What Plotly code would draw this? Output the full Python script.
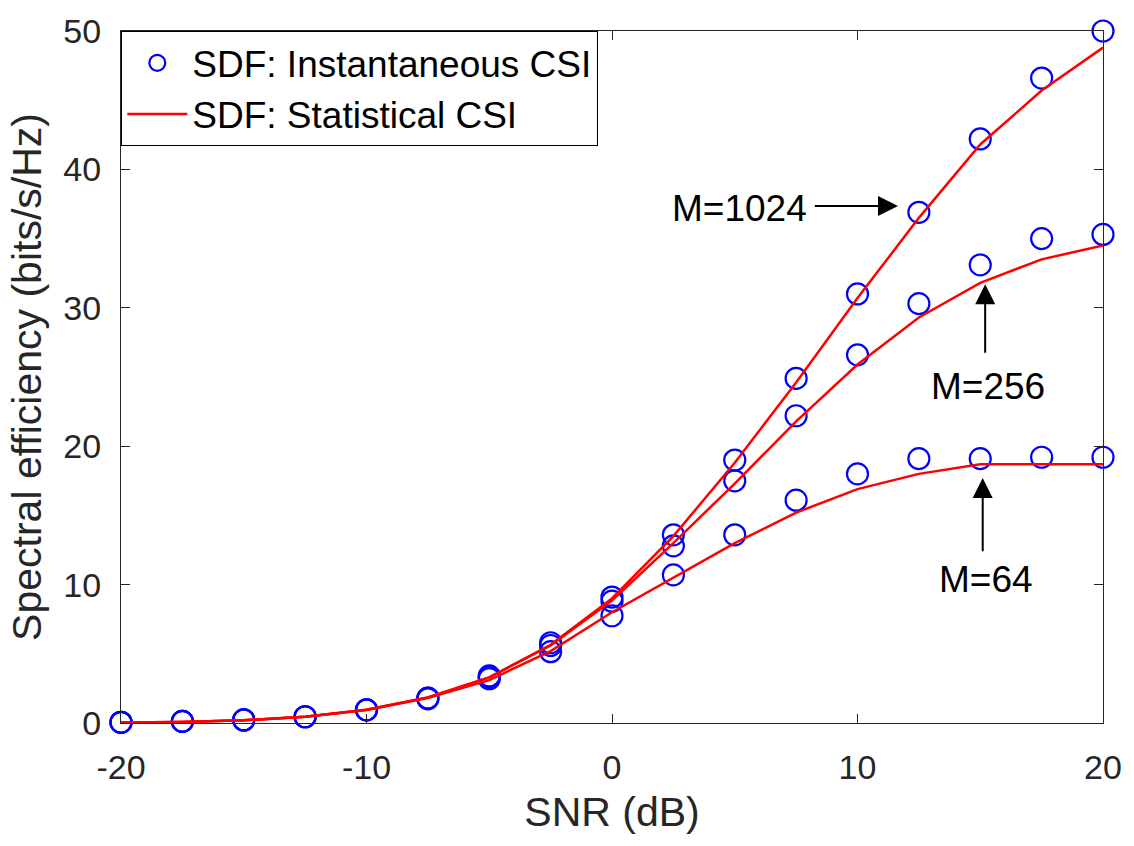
import plotly.graph_objects as go

snr = [-20, -17.5, -15, -12.5, -10, -7.5, -5, -2.5, 0, 2.5, 5, 7.5, 10, 12.5, 15, 17.5, 20]

inst_1024 = [0.05, 0.12, 0.22, 0.45, 0.95, 1.8, 3.4, 5.8, 9.1, 13.6, 19.0, 24.9, 31.0, 36.9, 42.2, 46.6, 50.0]
inst_256 = [0.05, 0.12, 0.22, 0.45, 0.95, 1.8, 3.35, 5.6, 8.8, 12.8, 17.5, 22.2, 26.6, 30.3, 33.1, 35.0, 35.3]
inst_64 = [0.05, 0.12, 0.22, 0.45, 0.95, 1.75, 3.2, 5.15, 7.75, 10.7, 13.6, 16.1, 18.0, 19.1, 19.1, 19.2, 19.2]

stat_1024 = [0.03, 0.08, 0.2, 0.45, 0.95, 1.85, 3.3, 5.65, 9.0, 13.5, 18.8, 24.6, 30.7, 36.5, 41.8, 45.7, 48.8]
stat_256 = [0.03, 0.08, 0.2, 0.45, 0.95, 1.85, 3.3, 5.6, 8.85, 13.0, 17.3, 21.8, 25.9, 29.3, 31.8, 33.5, 34.5]
stat_64 = [0.03, 0.08, 0.2, 0.45, 0.93, 1.8, 3.1, 5.2, 8.0, 10.5, 13.0, 15.2, 16.9, 18.0, 18.7, 18.7, 18.7]

x_ticks = [-20, -10, 0, 10, 20]
y_ticks = [0, 10, 20, 30, 40, 50]

# label text and its centre (data units)
label_text = ["M=1024", "M=256", "M=64"]
label_x = [5.2, 15.3, 15.25]
label_y = [37.2, 24.35, 10.4]
# arrows: tail -> head (data units)
arrow_tail_x = [8.2, 15.2, 15.1]
arrow_tail_y = [37.36, 26.65, 12.3]
arrow_head_x = [11.65, 15.2, 15.1]
arrow_head_y = [37.36, 31.7, 17.7]

FONT = "Liberation Sans, Arial, sans-serif"
AX = "#262626"

fig = go.Figure()

for i, ys in enumerate([inst_1024, inst_256, inst_64]):
    fig.add_trace(go.Scatter(
        x=snr, y=ys, mode="markers", name="SDF: Instantaneous CSI",
        showlegend=(i == 0), legendgroup="inst",
        marker=dict(symbol="circle-open", size=21, color="#0000ff",
                    line=dict(width=2.2, color="#0000ff")),
        cliponaxis=False,
    ))

for i, ys in enumerate([stat_1024, stat_256, stat_64]):
    fig.add_trace(go.Scatter(
        x=snr, y=ys, mode="lines", name="SDF: Statistical CSI",
        showlegend=(i == 0), legendgroup="stat",
        line=dict(color="#ff0000", width=2.5),
    ))

for t, x, y in zip(label_text, label_x, label_y):
    fig.add_annotation(
        x=x, y=y, xref="x", yref="y", text=t, showarrow=False,
        font=dict(family=FONT, size=37, color="black"),
    )

for tx, ty, hx, hy in zip(arrow_tail_x, arrow_tail_y, arrow_head_x, arrow_head_y):
    fig.add_annotation(
        x=hx, y=hy, ax=tx, ay=ty, axref="x", ayref="y", xref="x", yref="y",
        text="", showarrow=True, arrowhead=2, arrowsize=2.0, arrowwidth=2,
        arrowcolor="black",
    )

fig.update_layout(
    width=1134, height=846,
    margin=dict(l=121, r=28, t=27, b=123),
    plot_bgcolor="white", paper_bgcolor="white",
    font=dict(family=FONT, color=AX),
    legend=dict(
        x=0, y=1, xanchor="left", yanchor="top",
        bgcolor="white", bordercolor="black", borderwidth=1.3,
        font=dict(family=FONT, size=37, color="black"),
        tracegroupgap=0, itemwidth=60,
    ),
)

fig.update_xaxes(
    range=[-20, 20], tickvals=x_ticks, ticktext=[str(v) for v in x_ticks],
    showgrid=False, zeroline=False, showline=True, linecolor=AX, linewidth=1.2,
    mirror="ticks", ticks="inside", ticklen=9, tickcolor=AX, tickwidth=1.2,
    tickfont=dict(family=FONT, size=34, color=AX), ticklabelstandoff=14,
    title=dict(text="SNR (dB)", font=dict(family=FONT, size=41, color=AX), standoff=12),
)
fig.update_yaxes(
    range=[0, 50], tickvals=y_ticks, ticktext=[str(v) for v in y_ticks],
    showgrid=False, zeroline=False, showline=True, linecolor=AX, linewidth=1.2,
    mirror="ticks", ticks="inside", ticklen=9, tickcolor=AX, tickwidth=1.2,
    tickfont=dict(family=FONT, size=34, color=AX), ticklabelstandoff=12,
    title=dict(text="Spectral efficiency (bits/s/Hz)", font=dict(family=FONT, size=41, color=AX), standoff=8),
)

fig.write_html("out.html")
